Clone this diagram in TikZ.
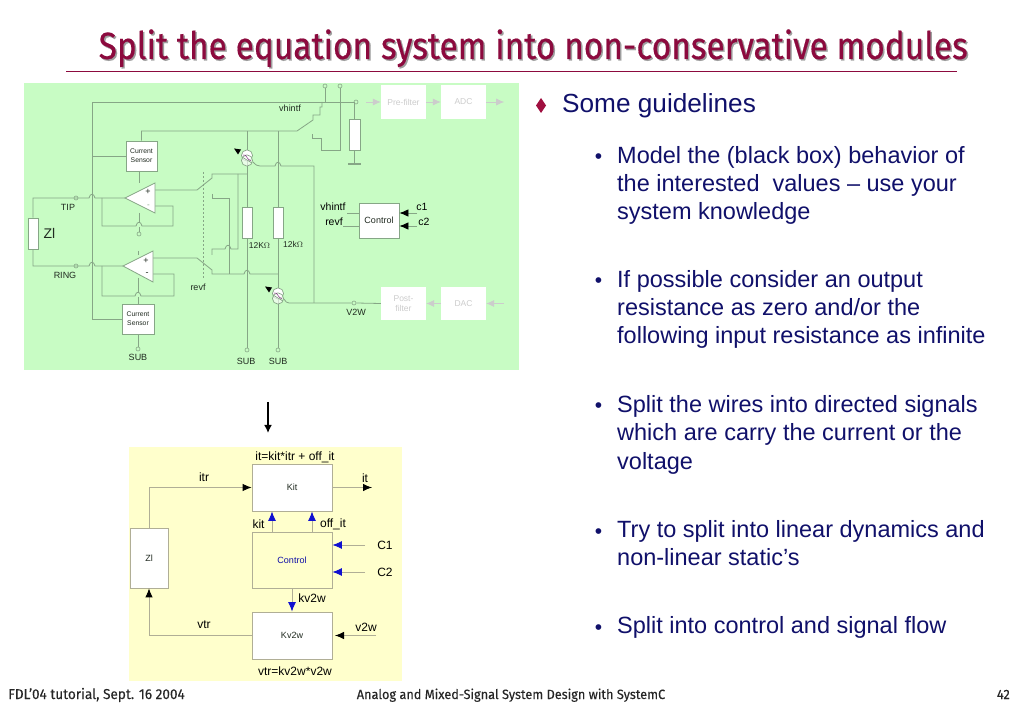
\documentclass[tikz,border=0pt]{standalone}
\usepackage{fontspec}
\setmainfont{Liberation Sans}
\newfontfamily\titlefont[FakeStretch=0.88,FakeBold=0.4]{Fira Sans}
\newfontfamily\footfont[FakeStretch=0.95,FakeBold=0.2]{Fira Sans}
\usetikzlibrary{arrows.meta,calc}
\definecolor{bggreen}{HTML}{C8FCC4}
\definecolor{bgyellow}{HTML}{FFFFCC}
\definecolor{wire}{HTML}{86A686}
\definecolor{wiretan}{HTML}{B0AE96}
\definecolor{ghost}{HTML}{CCCCCC}
\definecolor{navy}{HTML}{10106A}
\definecolor{crimson}{HTML}{8C0A3E}
\definecolor{diamondred}{HTML}{A01040}
\definecolor{bluearrow}{HTML}{1010D0}
\definecolor{lbl}{HTML}{202A20}
\newcommand{\fs}[1]{\fontsize{#1}{#1}\selectfont}
\newcommand{\fsb}[2]{\fontsize{#1}{#2}\selectfont}
\newcommand{\hop}[2]{-- ({#1-3},#2) .. controls ({#1-2},{#2-5}) and ({#1+2},{#2-5}) .. ({#1+3},#2)}
\newcommand{\pagetext}[3]{\node[bodytext,anchor=north west] (#1) at (617,{#2-20}) {\rule{0pt}{20pt}#3};}
\tikzset{
  x=1pt,y=-1pt,
  wirepath/.style={draw=wire,line width=0.8pt,line join=miter},
  tanpath/.style={draw=wiretan,line width=0.9pt},
  whitebox/.style={draw=#1,fill=white,line width=0.8pt,inner sep=0pt,align=center,text=lbl},
  whitebox/.default=wire,
  ghostbox/.style={fill=white,draw=none,inner sep=0pt,align=center,text=ghost,font=\fs{8.5}},
  pinnode/.style={circle,draw=wire,fill=bggreen,line width=0.6pt,minimum size=4pt,inner sep=0pt},
  lab/.style={inner sep=0pt,text=lbl,font=\fs{9}},
  blab/.style={inner sep=0pt,text=black,font=\fs{12}},
  ghostarrow/.style={draw=ghost,line width=0.7pt,-{Latex[length=8pt,width=7pt,fill=ghost]}},
  blackhead/.style={-{Latex[length=9pt,width=7.5pt,black]}},
  bluehead/.style={-{Latex[length=9.5pt,width=8pt,bluearrow]}},
  bodytext/.style={inner sep=0pt,align=left,text=navy,font=\fsb{23.5}{28.4}},
  subbullet/.style={inner sep=0pt,text=navy,font=\fs{21},anchor=base},
  foot/.style={inner sep=0pt,anchor=base,text=black!85,font=\footfont\fs{13.4}},
}
\begin{document}
\begin{tikzpicture}
\useasboundingbox (0,0) rectangle (1023,708);
\fill[white] (0,0) rectangle (1023,708);

% Title
\node[inner sep=0pt,anchor=base west,text=black!38,font=\titlefont\fs{38}] (titleshadow) at (100,60.5) {Split the equation system into non-conservative modules};
\node[inner sep=0pt,anchor=base west,text=crimson,font=\titlefont\fs{38}] (title) at (98.5,59) {Split the equation system into non-conservative modules};
\draw[draw=crimson,line width=0.9pt] (66,71.5) -- (957,71.5);

% Panels
\fill[bggreen] (24,83) rectangle (519,370);
\fill[bgyellow] (129,447) rectangle (402,681);

% ---------- Upper schematic: boxes
\node[whitebox,minimum width=31pt,minimum height=30pt,font=\fsb{6.8}{9}] (sensT) at (141.5,156) {Current\\Sensor};
\node[whitebox,minimum width=32pt,minimum height=30pt,font=\fsb{6.8}{9}] (sensB) at (138,319) {Current\\Sensor};
\node[whitebox,minimum width=10pt,minimum height=31pt] (rzi) at (33,233.5) {};
\node[whitebox,minimum width=10pt,minimum height=31pt] (r1) at (247,222.5) {};
\node[whitebox,minimum width=10pt,minimum height=31pt] (r2) at (278,222.5) {};
\node[whitebox,minimum width=11pt,minimum height=31pt] (r3) at (354.5,134.5) {};
\node[whitebox,minimum width=40pt,minimum height=35pt,font=\fs{9}] (ctlT) at (379,220.5) {Control};
\node[ghostbox,minimum width=45pt,minimum height=34pt] (pre) at (403.5,102) {Pre-filter};
\node[ghostbox,minimum width=45pt,minimum height=34pt] (adc) at (463.5,102) {ADC};
\node[ghostbox,minimum width=45pt,minimum height=33pt,font=\fsb{8.5}{10.5}] (post) at (403.5,303.5) {Post-\\filter};
\node[ghostbox,minimum width=45pt,minimum height=33pt] (dac) at (463.5,303.5) {DAC};

% pins
\node[pinnode] (pinA) at (325,86) {};
\node[pinnode] (pinB) at (340,86) {};
\node[pinnode] (pinC) at (356,102) {};
\node[pinnode] (pinTip) at (76,198) {};
\node[pinnode] (pinRing) at (76,266) {};
\node[pinnode] (pinT) at (139,234) {};
\node[pinnode] (pinS) at (138,349) {};
\node[pinnode] (pinS1) at (247,350) {};
\node[pinnode] (pinS2) at (278,350) {};
\node[pinnode] (pinV) at (354,303) {};

% wires
\draw[wirepath] (sensB.west) -| (92,102) -- (pinC.west);
\draw[wirepath] (sensT.west) -- (92,156);
\draw[wirepath] (sensT.north) |- (247,131) -- (297,131) -- (313,120) -- (313,115) -- (320,115) -- (320,107) -- (322,107) -- (322,102);
\draw[wirepath] (278,131) -- (r2.north);
\draw[wirepath] (247,131) -- (r1.north);
\draw[wirepath] (pinA.south) -- (325,102);
\draw[wirepath] (pinB.south) -- (340,150) -- (321,150) -- (321,138) -- (312,138) -- (312,134);
\draw[wirepath] (354.5,102) -- (r3.north);
\draw[wirepath] (r3.south) -- (354.5,164);
\draw[draw=wire,line width=1.5pt] (348,164) -- (361,164);
% tip side
\draw[wirepath] (rzi.north) |- (89,198) \hop{92}{198} -- (125,198);
\draw[wirepath] (102,198) |- (136,226) \hop{139}{226} -- (173,226) |- (155,206);
\draw[wirepath] (139,171) -- (139,183);
\draw[wirepath] (139,213) -- (139,223);
\draw[wirepath] (139,227) -- (pinT.north);
% ring side
\draw[wirepath] (rzi.south) |- (89,266) \hop{92}{266} -- (123,266);
\draw[wirepath] (102,266) |- (135,296) \hop{138}{296} -- (174,296) |- (153,274);
\draw[wirepath] (138,251) -- (138,255);
\draw[wirepath] (138,278) -- (138,293);
\draw[wirepath] (138,297) -- (sensB.north);
\draw[wirepath] (sensB.south) -- (pinS.north);
% switches
\draw[wirepath] (155,190) -- (197,190) -- (212,178) -- (212,174) -- (247,174);
\draw[wirepath] (238,174) -- (238,249) -- (231,249) .. controls (230,244) and (226,244) .. (225,249) -- (212,249) -- (212,255);
\draw[wirepath] (212,194) -- (212,198) -- (229,198) -- (229,274);
\draw[wirepath] (153,258) -- (197,258) -- (212,270) -- (212,274) \hop{247}{274} -- (278,274);
\draw[wirepath,dash pattern=on 2.5pt off 1.5pt] (203,172) -- (203,278);
% resistors to sub
\draw[wirepath] (r1.south) -- (pinS1.north);
\draw[wirepath] (r2.south) -- (pinS2.north);
% source outputs
\draw[wirepath] (253,162) .. controls (256,165) and (257,166) .. (260,166) \hop{278}{166} -- (314,166) -- (314,303);
\draw[wirepath] (284,299) .. controls (286,302) and (287,303) .. (289,303) -- (pinV.west);
\draw[wirepath] (pinV.east) -- (post.west);

% op amps
\draw[draw=wire,fill=white,line width=0.8pt] (125,198) -- (155,183) -- (155,213) -- cycle;
\draw[draw=wire,fill=white,line width=0.8pt] (123,266) -- (153,251) -- (153,282) -- cycle;
\node[lab,font=\fs{9}] (pT) at (148,192) {+};
\node[lab,font=\fs{8},text=wire] (mT) at (148.5,206) {-};
\node[lab,font=\fs{9}] (pB) at (146,260.5) {+};
\node[lab,font=\fs{9}] (mB) at (147,274) {-};

% current sources
\foreach \cx/\cy/\nm in {247/158/sa,278/296/sb}{
  \draw[draw=wire,fill=white,line width=0.7pt] (\cx,\cy-2.5) circle[radius=5.6];
  \draw[draw=wire,fill=white,line width=0.7pt,fill opacity=0.6] (\cx,\cy+2.5) circle[radius=5.6];
  \draw[draw=violet!60!gray,line width=0.5pt] (\cx-4,\cy-3) .. controls (\cx,\cy-4) and (\cx-1,\cy+1) .. (\cx+4,\cy+3);
  \draw[draw=wire,line width=0.7pt] (\cx-5,\cy-1) -- (\cx+5,\cy+5);
  \fill[black] (\cx-13,\cy-9.5) -- (\cx-6,\cy-8.5) -- (\cx-9,\cy-3.5) -- cycle;
}

% ghost arrows
\draw[ghostarrow] (pinC.east) ++(8,0) -- (pre.west);
\draw[ghostarrow] (pre.east) -- (adc.west);
\draw[ghostarrow] (adc.east) -- ++(18,0);
\draw[ghostarrow] (dac.west) -- (post.east);
\coordinate (dacin) at (504,303.5);
\draw[ghostarrow] (dacin) -- (dac.east);

% control I/O
\coordinate (vhi) at (347,213);
\coordinate (rev) at (343,226);
\coordinate (cone) at (417,213);
\coordinate (ctwo) at (417,226);
\draw[wirepath] (vhi) -- (vhi -| ctlT.west);
\draw[wirepath] (rev) -- (rev -| ctlT.west);
\draw[wirepath,blackhead] (cone) -- (cone -| ctlT.east);
\draw[wirepath,blackhead] (ctwo) -- (ctwo -| ctlT.east);

% labels
\node[lab] (lTip) at (68,207) {TIP};
\node[lab] (lRing) at (65,275) {RING};
\node[lab,font=\fs{14}] (lZi) at (49.5,233.5) {Zl};
\node[lab] (lSub) at (138,357) {SUB};
\node[lab] (lSub1) at (246,361) {SUB};
\node[lab] (lSub2) at (278,361) {SUB};
\node[lab,font=\fs{8.5}] (l12a) at (259.5,245.5) {12K$\Omega$};
\node[lab,font=\fs{8.5}] (l12b) at (293,244.5) {12k$\Omega$};
\node[lab] (lRevf) at (198,287) {revf};
\node[lab] (lV2w) at (356,312.5) {V2W};
\node[lab] (lVhi) at (290,108.5) {vhintf};
\node[blab,font=\fs{10.5}] (lVhiC) at (333,207) {vhintf};
\node[blab,font=\fs{10.5}] (lRevC) at (334,222) {revf};
\node[blab,font=\fs{10.5}] (lC1) at (422,207) {c1};
\node[blab,font=\fs{10.5}] (lC2) at (424,222) {c2};

% ---------- Arrow between the panels
\coordinate (downA) at (268,402);
\coordinate (downB) at (268,433);
\draw[line width=1.7pt,-{Latex[length=8pt,width=8pt]}] (downA) -- (downB);

% ---------- Lower block diagram
\node[whitebox=wiretan,minimum width=80pt,minimum height=47pt,font=\fs{9}] (kit) at (292,487.5) {Kit};
\node[whitebox=wiretan,fill=bgyellow,minimum width=80pt,minimum height=56pt,font=\fs{9},text=bluearrow!80!black] (ctl) at (292,560) {Control};
\node[whitebox=wiretan,minimum width=80pt,minimum height=47pt,font=\fs{9}] (kv) at (292,635.5) {Kv2w};
\node[whitebox=wiretan,minimum width=38pt,minimum height=60pt,font=\fs{9}] (zi) at (149,558) {Zl};

\draw[tanpath,blackhead] (zi.north) |- (kit.west);
\draw[tanpath,blackhead] (kv.west) -| (zi.south);
\coordinate (itout) at (372,487.5);
\draw[tanpath,blackhead] (kit.east) -- (itout);
\coordinate (kitx) at (272,0);
\coordinate (offx) at (312,0);
\draw[tanpath,bluehead] (ctl.north -| kitx) -- (kit.south -| kitx);
\draw[tanpath,bluehead] (ctl.north -| offx) -- (kit.south -| offx);
\draw[tanpath,bluehead] (ctl.south) -- (kv.north);
\coordinate (cone2) at (365,545);
\coordinate (ctwo2) at (365,572);
\draw[tanpath,bluehead] (cone2) -- (cone2 -| ctl.east);
\draw[tanpath,bluehead] (ctwo2) -- (ctwo2 -| ctl.east);
\coordinate (vin) at (376,635.5);
\coordinate (vtip) at (335,635.5);
\draw[tanpath,blackhead] (vin) -- (vtip);

\node[blab] (e1) at (295,457) {it=kit*itr + off\_it};
\node[blab] (e2) at (295,671.5) {vtr=kv2w*v2w};
\node[blab] (itrL) at (204,477.5) {itr};
\node[blab] (itL) at (365,478) {it};
\node[blab] (kitL) at (258.5,524) {kit};
\node[blab] (offL) at (333,524) {off\_it};
\node[blab] (c1L) at (385,545) {C1};
\node[blab] (c2L) at (385,572) {C2};
\node[blab] (kvL) at (312,598) {kv2w};
\node[blab] (vtrL) at (204,624.5) {vtr};
\node[blab] (v2L) at (366,627) {v2w};

% ---------- Right text
\fill[diamondred] (541,98) -- (546,105.5) -- (541,113) -- (536,105.5) -- cycle;
\node[inner sep=0pt,anchor=base west,text=navy,font=\fs{26.2}] (head) at (562,113) {Some guidelines};

\foreach \by in {164,288,413,538,634}{\node[subbullet] at (598.5,\by) {•};}
\pagetext{t1}{163}{Model the (black box) behavior of\\the interested\ \ values – use your\\system knowledge}
\pagetext{t2}{287}{If possible consider an output\\resistance as zero and/or the\\following input resistance as infinite}
\pagetext{t3}{412}{Split the wires into directed signals\\which are carry the current or the\\voltage}
\pagetext{t4}{537}{Try to split into linear dynamics and\\non-linear static's}
\pagetext{t5}{633}{Split into control and signal flow}

% ---------- Footer
\node[foot,anchor=base west,font=\footfont\fs{14.3}] (f1) at (8,699) {FDL’04 tutorial, Sept. 16 2004};
\node[foot] (f2) at (511,699) {Analog and Mixed-Signal System Design with SystemC};
\node[foot,anchor=base east] (f3) at (1010,699) {42};
\end{tikzpicture}
\end{document}
